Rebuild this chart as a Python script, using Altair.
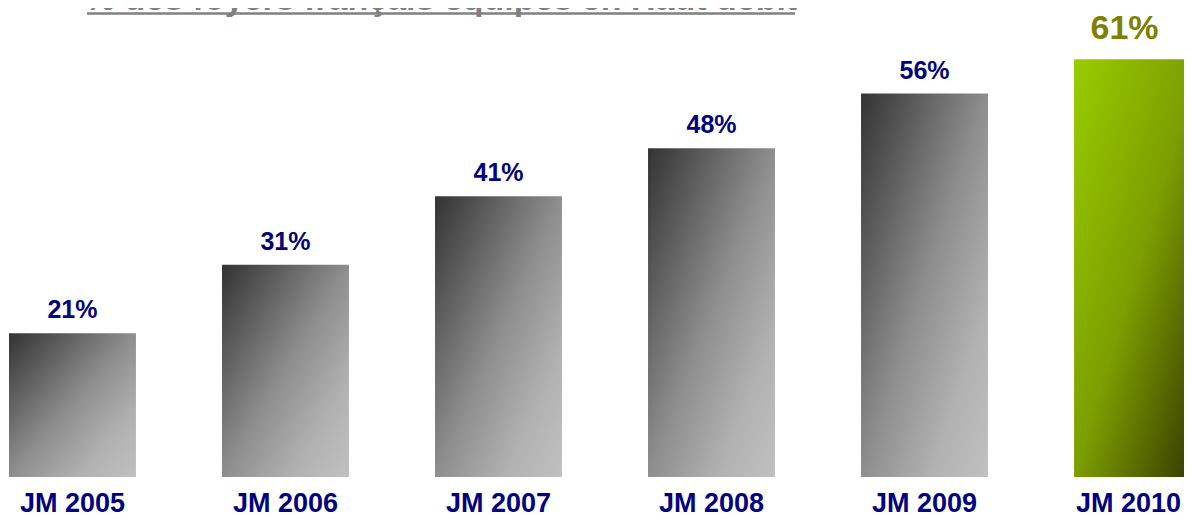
import altair as alt
import pandas as pd

years = ["JM 2005", "JM 2006", "JM 2007", "JM 2008", "JM 2009", "JM 2010"]
values = [21, 31, 41, 48, 56, 61]
highlight = [False, False, False, False, False, True]
labels = [f"{v}%" for v in values]
title_text = "% des foyers français équipés en Haut débit"

df = pd.DataFrame({"year": years, "value": values, "hl": highlight, "label": labels})

FONT = "Liberation Sans"

x = alt.X("year:N", sort=years,
          scale=alt.Scale(range=[1, 1193], paddingInner=0.404, paddingOuter=0),
          axis=alt.Axis(title=None, labelAngle=0, domain=False, ticks=False, tickSize=0,
                        labelPadding=34, labelBaseline="alphabetic", labelFont=FONT,
                        labelFontSize=27, labelFontWeight="bold", labelColor="#000080",
                        labelOffset=alt.expr("datum.value == 'JM 2010' ? -9 : 0"),
                        grid=False))
y = alt.Y("value:Q", scale=alt.Scale(domain=[0, 68.5], nice=False), axis=None)

gray_grad = {"gradient": "linear", "x1": 0, "y1": 0, "x2": 1, "y2": 1,
             "stops": [{"offset": 0, "color": "#333333"},
                       {"offset": 0.5, "color": "#8e8e8e"},
                       {"offset": 0.78, "color": "#b2b2b2"},
                       {"offset": 1, "color": "#c0c0c0"}]}
green_grad = {"gradient": "linear", "x1": 0, "y1": 0, "x2": 1, "y2": 1,
              "stops": [{"offset": 0, "color": "#99cc00"},
                        {"offset": 0.5, "color": "#7c9e00"},
                        {"offset": 1, "color": "#333300"}]}

base = alt.Chart(df)

bars_gray = base.transform_filter("!datum.hl").mark_bar(color=gray_grad, clip=True).encode(x=x, y=y)
bars_green = base.transform_filter("datum.hl").mark_bar(color=green_grad, clip=True).encode(x=x, y=y)

text_gray = base.transform_filter("!datum.hl").mark_text(
    font=FONT, fontSize=25, fontWeight="bold", color="#000080", dy=-15,
    baseline="alphabetic").encode(x=x, y=y, text="label:N")
text_green = base.transform_filter("datum.hl").mark_text(
    font=FONT, fontSize=34, fontWeight="bold", color="#808000", dy=-20, dx=-13,
    baseline="alphabetic").encode(x=x, y=y, text="label:N")

title = alt.Chart(pd.DataFrame({"t": [title_text]})).mark_text(
    font=FONT, fontSize=34, fontWeight="bold", color="#808080",
    baseline="alphabetic", align="center").encode(
    x=alt.value(433), y=alt.value(2), text="t:N")
underline = alt.Chart(pd.DataFrame({"t": [title_text]})).mark_rule(
    color="#808080", strokeWidth=2.5).encode(
    x=alt.value(79), x2=alt.value(787), y=alt.value(5.5))

chart = alt.layer(bars_gray, bars_green, text_gray, text_green, title, underline).properties(
    width=1176, height=469,
    background="white",
    autosize=alt.AutoSizeParams(type="none"),
    padding={"left": 0, "top": 0, "right": 0, "bottom": 40},
).configure_view(strokeWidth=0, stroke="transparent")

chart.save("out.html", embed_options={"renderer": "svg", "actions": False})
